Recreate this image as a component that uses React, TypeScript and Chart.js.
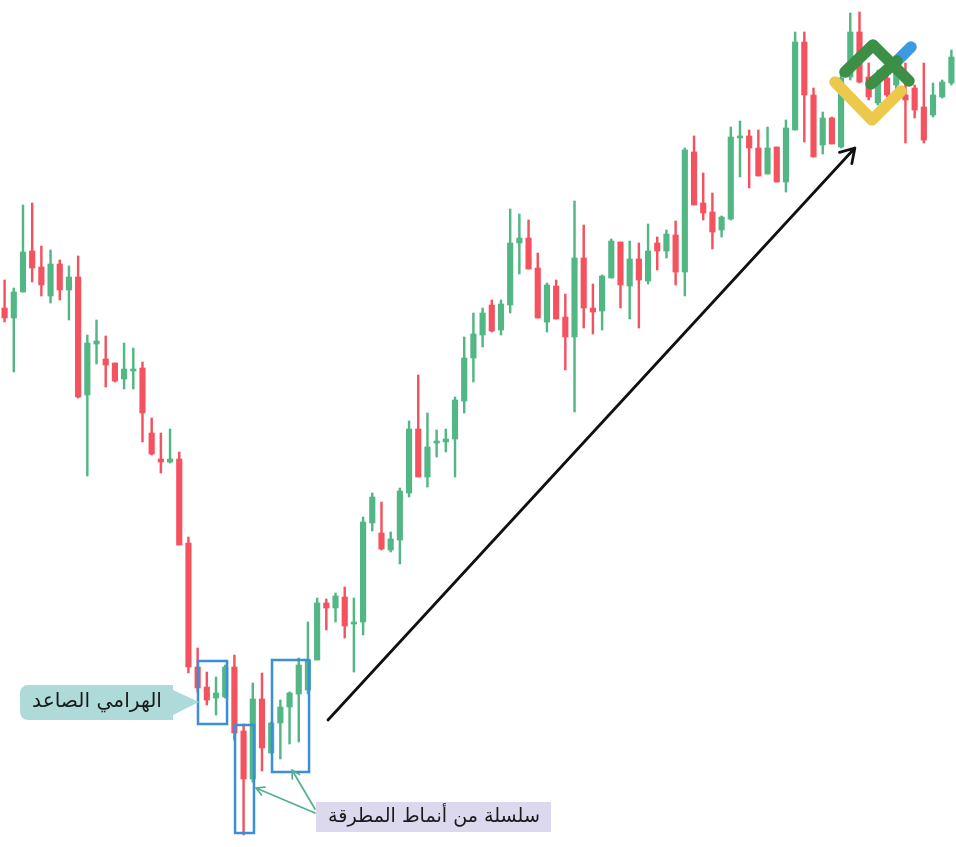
import React, { useEffect, useRef } from "react";
import { Chart, registerables } from "chart.js";

Chart.register(...registerables);

// Candle prices (points)
const OPEN = [
  592, 582, 608, 649, 633, 604, 636, 610, 623, 505,
  556, 541, 537, 521, 529, 532, 467, 441, 438, 441,
  357, 233, 213, 202, 203, 233, 169, 121, 201, 147,
  177, 193, 206, 210, 240, 297, 292, 303, 276, 278,
  377, 367, 350, 360, 407, 471, 423, 457, 458, 461,
  499, 542, 565, 595, 570, 595, 657, 662, 632, 578,
  614, 583, 563, 642, 592, 589, 622, 658, 614, 641,
  619, 657, 649, 665, 628, 748, 697, 688, 670, 681,
  762, 764, 752, 726, 753, 718, 770, 858, 805, 755,
  782, 753, 823, 868, 823, 797, 822, 815, 805, 812,
  793, 785, 803, 817,
];
const HIGH = [
  620, 612, 695, 697, 654, 650, 640, 634, 644, 565,
  580, 564, 537, 557, 552, 538, 482, 467, 471, 448,
  363, 252, 228, 223, 235, 245, 176, 217, 227, 178,
  200, 208, 242, 278, 302, 301, 307, 313, 302, 383,
  407, 398, 368, 412, 479, 525, 487, 470, 471, 503,
  563, 587, 592, 600, 600, 691, 686, 680, 647, 617,
  620, 606, 699, 675, 616, 625, 661, 658, 659, 657,
  676, 663, 670, 679, 752, 764, 727, 707, 684, 773,
  779, 770, 770, 773, 753, 780, 868, 868, 812, 788,
  783, 828, 887, 888, 837, 830, 833, 840, 837, 815,
  837, 817, 820, 850,
];
const LOW = [
  578, 528, 608, 618, 604, 597, 600, 580, 502, 424,
  536, 513, 518, 511, 511, 458, 445, 427, 437, 355,
  227, 208, 195, 185, 202, 160, 65, 118, 129, 147,
  141, 156, 158, 206, 240, 270, 278, 262, 228, 265,
  369, 350, 348, 336, 403, 423, 413, 443, 448, 423,
  487, 518, 553, 568, 565, 587, 626, 631, 582, 568,
  581, 530, 488, 572, 566, 570, 622, 592, 581, 572,
  616, 630, 642, 615, 604, 695, 680, 651, 663, 680,
  723, 712, 724, 726, 718, 708, 770, 758, 743, 746,
  756, 752, 820, 817, 800, 795, 803, 805, 757, 782,
  757, 783, 802, 815,
];
const CLOSE = [
  582, 608, 648, 632, 615, 636, 610, 623, 503, 557,
  559, 535, 519, 531, 531, 487, 446, 438, 441, 355,
  233, 212, 200, 207, 233, 167, 121, 201, 152, 177,
  193, 207, 235, 240, 297, 292, 304, 274, 278, 378,
  403, 351, 361, 409, 471, 423, 453, 459, 461, 500,
  542, 566, 587, 569, 596, 657, 662, 631, 582, 615,
  581, 563, 642, 592, 588, 624, 659, 615, 641, 620,
  649, 649, 666, 628, 750, 695, 687, 668, 683, 763,
  764, 752, 724, 752, 718, 772, 858, 805, 743, 782,
  756, 822, 868, 818, 803, 823, 805, 830, 800, 790,
  760, 805, 818, 843,
];
const LABELS = OPEN.map((_, i) => `D${i + 1}`);

const Y_MIN = 53;
const Y_MAX = 900;

// Annotation texts
const LABEL_HARAMI = "الهرامي الصاعد";
const LABEL_HAMMERS = "سلسلة من أنماط المطرقة";

// Annotation anchors in data space (candle index, price)
const BOXES = [
  { from: 21.04, to: 24.2, top: 239, bottom: 176 },
  { from: 25.07, to: 27.13, top: 175, bottom: 67 },
  { from: 29.09, to: 33.12, top: 240, bottom: 128 },
];
const TREND_ARROW = { x1: 35.18, y1: 180, x2: 92.5, y2: 752 };

const UP = "#52b784";
const DOWN = "#f4525f";

const annotations = {
  id: "annotations",
  afterDatasetsDraw(chart: any) {
    const { ctx } = chart;
    const xs = chart.scales.x;
    const ys = chart.scales.y;
    const X = (v: number) => xs.getPixelForValue(v);
    const Y = (v: number) => ys.getPixelForValue(v);

    const arrow = (x1: number, y1: number, x2: number, y2: number, head: number, spread: number) => {
      ctx.beginPath();
      ctx.moveTo(x1, y1);
      ctx.lineTo(x2, y2);
      const a = Math.atan2(y2 - y1, x2 - x1);
      ctx.moveTo(x2 - head * Math.cos(a - spread), y2 - head * Math.sin(a - spread));
      ctx.lineTo(x2, y2);
      ctx.lineTo(x2 - head * Math.cos(a + spread), y2 - head * Math.sin(a + spread));
      ctx.stroke();
    };

    ctx.save();
    // blue boxes
    ctx.strokeStyle = "#3a8fd6";
    ctx.lineWidth = 2.5;
    BOXES.forEach((b) => {
      const x1 = X(b.from), x2 = X(b.to), y1 = Y(b.top), y2 = Y(b.bottom);
      ctx.strokeRect(x1, y1, x2 - x1, y2 - y1);
    });

    // trend arrow
    ctx.strokeStyle = "#111";
    ctx.lineWidth = 2.8;
    ctx.lineCap = "round";
    ctx.lineJoin = "round";
    arrow(X(TREND_ARROW.x1), Y(TREND_ARROW.y1), X(TREND_ARROW.x2), Y(TREND_ARROW.y2), 16, 0.55);

    // label 1 (harami)
    const ca = chart.chartArea;
    const l1 = { x: ca.left + 20, y: ca.top + 685, w: 153, h: 35 };
    ctx.fillStyle = "#aedada";
    ctx.beginPath();
    const r = 8;
    ctx.moveTo(l1.x + r, l1.y);
    ctx.lineTo(l1.x + l1.w, l1.y);
    ctx.lineTo(l1.x + l1.w, l1.y + 5);
    ctx.lineTo(X(BOXES[0].from) + 1, l1.y + 17);
    ctx.lineTo(l1.x + l1.w, l1.y + 30);
    ctx.lineTo(l1.x + l1.w, l1.y + l1.h);
    ctx.lineTo(l1.x + r, l1.y + l1.h);
    ctx.arcTo(l1.x, l1.y + l1.h, l1.x, l1.y + l1.h - r, r);
    ctx.lineTo(l1.x, l1.y + r);
    ctx.arcTo(l1.x, l1.y, l1.x + r, l1.y, r);
    ctx.closePath();
    ctx.fill();

    const fitText = (text: string, cx: number, cy: number, width: number) => {
      ctx.font = '20px "DejaVu Sans"';
      const m = ctx.measureText(text).width;
      const size = Math.min(24, (20 * width) / m);
      ctx.font = `${size}px "DejaVu Sans"`;
      ctx.fillStyle = "#1a1a1a";
      ctx.textAlign = "center";
      ctx.textBaseline = "middle";
      ctx.direction = "rtl";
      ctx.fillText(text, cx, cy);
    };
    fitText(LABEL_HARAMI, l1.x + 77, l1.y + 17, 130);

    // label 2 (hammers)
    const l2 = { x: ca.left + 316, y: ca.top + 802, w: 235, h: 30 };
    ctx.fillStyle = "#dcd8ee";
    ctx.fillRect(l2.x, l2.y, l2.w, l2.h);
    fitText(LABEL_HAMMERS, l2.x + 118, l2.y + 15, 212);

    // green pointer arrows
    ctx.strokeStyle = "#52b08c";
    ctx.lineWidth = 1.7;
    arrow(l2.x - 1, l2.y + 11, X(BOXES[1].to) + 2, Y(112), 9, 0.5);
    arrow(l2.x - 1, l2.y + 7, X(BOXES[2].from) + 20, Y(BOXES[2].bottom) - 2, 9, 0.5);

    // logo
    const lx = ca.left, ly = ca.top;
    ctx.lineWidth = 11.5;
    ctx.lineCap = "round";
    ctx.lineJoin = "round";
    ctx.strokeStyle = "#ecc94b";
    ctx.beginPath();
    ctx.moveTo(lx + 835, ly + 82);
    ctx.lineTo(lx + 872, ly + 120);
    ctx.lineTo(lx + 901, ly + 91);
    ctx.stroke();
    ctx.strokeStyle = "#3b8f46";
    ctx.beginPath();
    ctx.moveTo(lx + 845, ly + 72);
    ctx.lineTo(lx + 873, ly + 45);
    ctx.lineTo(lx + 909, ly + 81);
    ctx.stroke();
    ctx.strokeStyle = "#3c9be0";
    ctx.beginPath();
    ctx.moveTo(lx + 897, ly + 61);
    ctx.lineTo(lx + 911, ly + 47);
    ctx.stroke();
    ctx.strokeStyle = "#3b8f46";
    ctx.beginPath();
    ctx.moveTo(lx + 871, ly + 84);
    ctx.lineTo(lx + 897, ly + 61);
    ctx.stroke();
    ctx.restore();
  },
};

export default function App() {
  const ref = useRef<HTMLCanvasElement | null>(null);

  useEffect(() => {
    if (!ref.current) return;
    const colors = OPEN.map((o, i) => (CLOSE[i] >= o ? UP : DOWN));
    const chart = new Chart(ref.current, {
      type: "bar",
      data: {
        labels: LABELS,
        datasets: [
          {
            label: "body",
            data: OPEN.map((o, i) => [o, CLOSE[i]]) as any,
            backgroundColor: colors,
            borderWidth: 0,
            barThickness: 5.5,
            grouped: false,
            order: 1,
          } as any,
          {
            label: "wick",
            data: LOW.map((l, i) => [l, HIGH[i]]) as any,
            backgroundColor: colors,
            borderWidth: 0,
            barThickness: 1.8,
            grouped: false,
            order: 2,
          } as any,
        ],
      },
      options: {
        animation: false,
        responsive: false,
        maintainAspectRatio: false,
        layout: { padding: 0 },
        plugins: { legend: { display: false }, tooltip: { enabled: false } },
        scales: {
          x: { display: false },
          y: { display: false, min: Y_MIN, max: Y_MAX },
        },
      },
      plugins: [annotations],
    });
    return () => chart.destroy();
  }, []);

  return (
    <div style={{ position: "absolute", left: 0, top: 0, width: 956, height: 847, background: "#fff" }}>
      <canvas ref={ref} width={956} height={847} style={{ width: 956, height: 847, display: "block" }} />
    </div>
  );
}
